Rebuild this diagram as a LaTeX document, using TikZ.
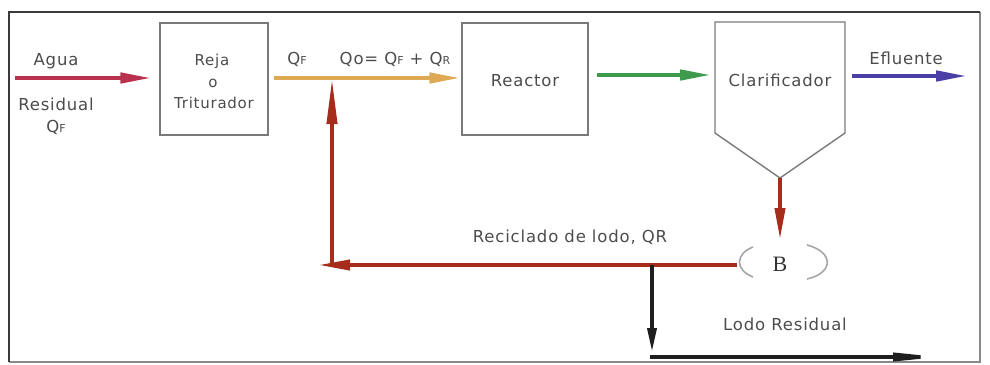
\documentclass[tikz,border=0pt]{standalone}
\usepackage{fontspec}
\setmainfont{DejaVu Sans}[LetterSpace=5]
\newfontfamily\serifB{Liberation Serif}
\usetikzlibrary{arrows.meta}
\definecolor{txtc}{HTML}{4C4C4C}
\definecolor{aguac}{HTML}{B8324F}
\definecolor{orngc}{HTML}{DDA955}
\definecolor{grnc}{HTML}{3E9A4C}
\definecolor{bluc}{HTML}{4B3FA6}
\definecolor{recc}{HTML}{A62C1C}
\definecolor{blkc}{HTML}{1E1E1E}
\definecolor{boxc}{HTML}{7A7A7A}
\definecolor{framec}{HTML}{3A3A3A}
\tikzset{
  lbl/.style={text=txtc, font=\fontsize{16.5}{19}\selectfont, inner sep=0pt, anchor=base},
  sml/.style={text=txtc, font=\fontsize{15}{18}\selectfont, inner sep=0pt, anchor=base},
  procbox/.style={draw=boxc, line width=1.4pt, fill=white, inner sep=0pt},
  flow/.style={line width=4.5pt, -{Triangle[length=32pt,width=10pt]}},
  bracket/.style={draw=gray!70, line width=1.6pt},
}
\newcommand{\smc}[1]{{\fontsize{11}{11}\selectfont #1}}
\begin{document}
\begin{tikzpicture}[x=1pt,y=-1pt]
\useasboundingbox (0,0) rectangle (990,364);
% frame
\draw[framec!60, line width=1.2pt] (980,12) -- (980,362) -- (9,362);
\draw[framec, line width=2.4pt] (9,362) -- (9,12) -- (980,12);

% boxes
\node[procbox, minimum width=108pt, minimum height=112pt] (reja) at (214,79) {};
\node[procbox, minimum width=126pt, minimum height=112pt] (reactor) at (525,79) {};
\coordinate (c1) at (715,22);
\coordinate (c2) at (845,22);
\coordinate (c3) at (845,133);
\coordinate (clarT) at (780,178);
\coordinate (c5) at (715,133);
\draw[boxc, line width=1.4pt] (c1) -- (c2) -- (c3) -- (clarT) -- (c5) -- cycle;

% texts
\node[lbl] (agua) at (56,65) {Agua};
\node[lbl] (resid) at (56,110) {Residual};
\node[lbl] (qf1) at (56,132) {Q\smc{F}};
\node[sml] (t1) at (212,65) {Reja};
\node[sml] (t2) at (213,87) {o};
\node[sml] (t3) at (214,108) {Triturador};
\node[lbl] (qf2) at (297,64) {Q\smc{F}};
\node[lbl] (qo) at (395,64) {Qo= Q\smc{F} + Q\smc{R}};
\node[lbl] (treact) at (525,86) {Reactor};
\node[lbl] (tclar) at (780,86) {Clarificador};
\node[lbl] (eflu) at (906,64) {Efluente};
\node[lbl] (recic) at (570,242) {Reciclado de lodo, QR};
\node[lbl] (lodo) at (785,330) {Lodo Residual};
\node[inner sep=0pt, anchor=base, font=\serifB\fontsize{22}{22}\selectfont, text=black!80] (bnode) at (780,271) {B};

% brackets
\draw[bracket] (753,247) .. controls (735,254) and (735,270) .. (753,277);
\draw[bracket] (807,245) .. controls (834,252) and (834,273) .. (807,279);

% coordinates for free ends
\coordinate (aguaS) at (15,78);
\coordinate (oS) at (274,78);
\coordinate (gS) at (597,75);
\coordinate (gE) at (712,75);
\coordinate (bS) at (852,76);
\coordinate (bE) at (968,76);
\coordinate (bTop) at (780,240);
\coordinate (recR) at (737,265);
\coordinate (recL) at (318,265);
\coordinate (j1) at (332,265);
\coordinate (j2) at (652,265);
\coordinate (j3) at (652,352);
\coordinate (j4) at (652,357);
\coordinate (lodoE) at (943,357);

% connectors
\draw[flow, aguac] (aguaS) -- ([xshift=-7pt]reja.west |- aguaS);
\draw[flow, orngc] (oS) -- (reactor.west |- oS);
\draw[flow, grnc] (gS) -- (gE);
\draw[flow, bluc] (bS) -- (bE);
\draw[flow, recc, line width=4pt] (clarT) -- (bTop);
\draw[flow, recc, line width=4pt] (recR) -- (recL);
\draw[flow, recc, line width=4pt, -{Triangle[length=46pt,width=10pt]}] (j1) -- (j1 |- oS);
\draw[flow, blkc, line width=3.6pt, -{Triangle[length=24pt,width=9pt]}] (j2) -- (j3);
\draw[flow, blkc, line width=3.6pt, -{Triangle[length=50pt,width=8pt]}] ([xshift=-1.8pt]j4) -- (lodoE);
\end{tikzpicture}
\end{document}
